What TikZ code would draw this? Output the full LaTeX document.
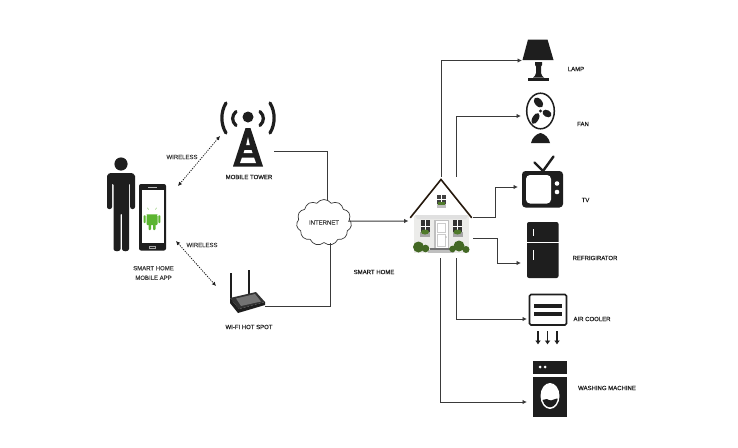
\documentclass[tikz,border=0pt]{standalone}
\usepackage{fontspec}
\setmainfont{Liberation Sans}
\newfontfamily\labfont[FakeBold=0.25]{Liberation Sans}
\usetikzlibrary{shapes.symbols,arrows.meta,calc}
\definecolor{ink}{HTML}{1E1E1E}
\definecolor{wirec}{HTML}{3A3A3A}
\definecolor{labc}{HTML}{3C3C3C}
\definecolor{droid}{HTML}{5CB531}
\definecolor{bush}{HTML}{4F7A2A}
\definecolor{wallg}{HTML}{ECECEA}
\tikzset{
  box/.style={inner sep=0pt,outer sep=0pt},
  lab/.style={inner sep=0pt,outer sep=0pt,text=labc,font=\labfont\fontsize{6}{9.6}\selectfont,align=center},
  wire/.style={draw=wirec,line width=1pt},
  feed/.style={wire,-{Latex[length=4.5pt,width=4.5pt]}},
  radio/.style={draw=ink,line width=0.8pt,dash pattern=on 1.2pt off 1.2pt,{Latex[length=4pt,width=4pt]}-{Latex[length=4pt,width=4pt]}},
  cloudbox/.style={shape=cloud,cloud puffs=11,cloud puff arc=110,aspect=1.25,draw=wirec,line width=0.7pt,fill=white,inner sep=0pt,outer sep=0pt,minimum width=55pt,minimum height=46pt,text=labc,font=\labfont\fontsize{6}{7}\selectfont}
}
\begin{document}
\begin{tikzpicture}[x=1pt,y=-1pt]
\useasboundingbox (0,0) rectangle (738,447);
\fill[white] (0,0) rectangle (738,447);

% placement boxes
\node[box,minimum width=52pt,minimum height=66pt] (user) at (152,217) {};
\node[box,minimum width=52pt,minimum height=40pt] (tower) at (248,151) {};
\node[box,minimum width=34pt,minimum height=40pt] (router) at (248,306) {};
\node[box,minimum width=63pt,minimum height=81pt] (house) at (441.5,217.5) {};
\node[box,minimum width=32pt,minimum height=41pt] (lamp) at (538,60.5) {};
\node[box,minimum width=32pt,minimum height=52pt] (fan) at (537,116) {};
\node[box,minimum width=44pt,minimum height=52pt] (tv) at (540,187) {};
\node[box,minimum width=36pt,minimum height=30pt] (fridge) at (539,263) {};
\node[box,minimum width=40pt,minimum height=31pt] (cooler) at (547,319) {};
\node[box,minimum width=40pt,minimum height=56pt] (washer) at (547,402) {};
\node[cloudbox] (cloud) at (324,222.5) {INTERNET};

% connectors
\draw[wire] (tower.east) -| ([xshift=3pt]cloud.north);
\draw[wire] (router.east) -| ([xshift=6pt]cloud.south);
\draw[feed] ([xshift=-3pt,yshift=1.5pt]cloud.east) -- ([yshift=-3.5pt,xshift=-1.5pt]house.west);
\draw[radio] ([xshift=-2pt,yshift=15pt]tower.west) -- ([yshift=31pt]user.east);
\draw[radio] ([xshift=-2pt,yshift=-24pt]user.east) -- ([xshift=-15pt,yshift=20pt]router.west);
\draw[feed] ([yshift=0.5pt]house.north) |- (lamp.west);
\draw[feed] ([xshift=15pt,yshift=0.5pt]house.north) |- (fan.west);
\draw[feed] (house.east) -- ++(22.5,0) |- (tv.west);
\draw[feed] ([yshift=-20.5pt]house.east) -- ++(24,0) |- (fridge.west);
\draw[feed] ([xshift=15pt]house.south) |- (cooler.west);
\draw[feed] ([xshift=-1pt]house.south) |- (washer.west);

% person
\fill[ink] (121,164) circle (6.6);
\fill[ink,rounded corners=2pt] (107,178) .. controls (107,174) and (110,173) .. (113,173) -- (129,173) .. controls (132,173) and (135,174) .. (135,178) -- (135,209) -- (130.2,209) -- (130.2,183) -- (129,183) -- (129,247) .. controls (129,252) and (122,252) .. (122,247) -- (122,213) -- (120.5,213) -- (120.5,247) .. controls (120.5,252) and (113.5,252) .. (113.5,247) -- (113.5,183) -- (112,183) -- (112,209) -- (107,209) -- cycle;

% phone
\fill[ink,rounded corners=2pt] (139,184) rectangle (166,250.5);
\fill[white] (141.5,190) rectangle (164,243);
\fill[white!70!ink] (148,187) rectangle (157,187.8);
\draw[white!60!ink,line width=0.4pt] (149.5,246.5) rectangle (155.5,248);
% android
\fill[droid] (146.5,214.3) arc[start angle=180,end angle=360,x radius=5.5,y radius=-5.5] -- cycle;
\fill[droid,rounded corners=0.8pt] (146.5,215.3) rectangle (157.5,225);
\fill[droid,rounded corners=0.8pt] (148.5,223) rectangle (151,230);
\fill[droid,rounded corners=0.8pt] (153,223) rectangle (155.5,230);
\fill[droid,rounded corners=0.8pt] (143.6,215.3) rectangle (145.7,223);
\fill[droid,rounded corners=0.8pt] (158.3,215.3) rectangle (160.4,223);
\draw[droid,line width=0.4pt] (148.5,209.5) -- (147.5,207.8);
\draw[droid,line width=0.4pt] (155.5,209.5) -- (156.5,207.8);
\fill[white] (149.5,211.6) circle (0.5) (154.5,211.6) circle (0.5);

% mobile tower icon
\fill[ink] (248,117) circle (5.5);
\draw[ink,line width=3.2pt,line cap=round] (236,111.5) .. controls (231.5,116) and (231.5,121) .. (236,125.5);
\draw[ink,line width=3.2pt,line cap=round] (260,111.5) .. controls (264.5,116) and (264.5,121) .. (260,125.5);
\draw[ink,line width=3.2pt,line cap=round] (226,103) .. controls (220.5,112) and (220.5,124) .. (226,133);
\draw[ink,line width=3.2pt,line cap=round] (270,103) .. controls (275.5,112) and (275.5,124) .. (270,133);
\fill[ink] (245.5,128) -- (250.5,128) -- (263,166.5) -- (233,166.5) -- cycle;
\fill[white] (248,137) -- (249.8,145) -- (246.2,145) -- cycle;
\fill[white] (244.5,150) -- (251.5,150) -- (252.5,153) -- (243.5,153) -- cycle;
\fill[white] (242,157.5) -- (254,157.5) -- (256,163) -- (240,163) -- cycle;

% router
\draw[ink,line width=1.1pt] (231,273) -- (231,298);
\draw[ink,line width=1.1pt] (249,270) -- (249,295);
\fill[black!80] (230,298) -- (256,292) -- (265,302) -- (239,309) -- cycle;
\fill[black!55] (236,298.5) -- (255,294) -- (261,301.5) -- (241,306) -- cycle;
\fill[ink] (230,298) -- (239,309) -- (265,302) -- (265,305) -- (238,313) -- (230,303) -- cycle;

% house
\fill[wallg] (414,216) rectangle (469,253);
\fill[white] (441,182) -- (468,215) -- (415,215) -- cycle;
\fill[black!12] (415,215) -- (468,215) -- (466,219) -- (417,219) -- cycle;
\draw[black!80!brown,line width=1.6pt,line cap=round] (410.5,217.5) -- (441,179.5) -- (471.5,217.5);
\fill[black!25] (436.5,195) rectangle (446,207.5);
\fill[black!75] (437,195) rectangle (445.5,204);
\draw[white,line width=0.5pt] (441.3,195) -- (441.3,204) (437,199) -- (445.5,199);
\fill[bush] (437.5,201.5) rectangle (445,205);
\fill[black!80] (420.5,220) rectangle (429.5,232);
\fill[black!80] (453,220) rectangle (462,232);
\draw[white,line width=0.5pt] (425,220) -- (425,232) (420.5,226) -- (429.5,226) (457.5,220) -- (457.5,232) (453,226) -- (462,226);
\fill[black!35] (420,232) rectangle (430,237);
\fill[black!35] (452.5,232) rectangle (462.5,237);
\fill[bush] (425,232) ellipse (4 and 2.5);
\fill[bush] (457.5,232) ellipse (4 and 2.5);
\fill[black!25] (434,220) rectangle (449,248);
\fill[white] (435.5,221) rectangle (447.5,248);
\draw[black!20,line width=0.4pt] (437.5,223) rectangle (445.5,232) (437.5,234) rectangle (445.5,246);
\fill[black!70] (446,237) circle (0.5);
\fill[black!55] (430,248) rectangle (452,250);
\fill[black!25] (428,250) rectangle (454,252.5);
\fill[bush!85!black] (418.5,247) circle (5.5);
\fill[bush!85!black] (425.5,248.5) circle (3.8);
\fill[bush!85!black] (459,246) circle (5.5);
\fill[bush!85!black] (452.5,249) circle (3.3);
\fill[bush!85!black] (466,249.5) circle (3.5);

% lamp
\fill[ink] (528,39.5) -- (547.5,39.5) -- (553.5,60) -- (522.5,60) -- cycle;
\fill[ink] (535,62) -- (542,62) -- (542,65) -- (541,66.5) -- (541,73) .. controls (541,76) and (543,76) .. (544,77.5) -- (533,77.5) .. controls (534,76) and (536,76) .. (536,73) -- (536,66.5) -- (535,65) -- cycle;
\fill[ink] (527.5,78) rectangle (548.5,81);

% fan
\draw[ink,line width=1.5pt] (540.5,111) ellipse (13.8 and 17.8);
\fill[ink] (540.5,111) circle (1.6);
\fill[ink,rotate around={-50:(538.5,102.5)}] (538.5,102.5) ellipse (5.8 and 3.6);
\fill[ink,rotate around={-30:(547,113.5)}] (547,113.5) ellipse (4.8 and 3.4);
\fill[ink,rotate around={60:(535.5,118.5)}] (535.5,118.5) ellipse (6 and 3.1);
\fill[ink] (540.5,133) .. controls (545,134) and (549,138) .. (550,143) -- (531,143) .. controls (532,138) and (536,134) .. (540.5,133) -- cycle;

% tv
\draw[ink,line width=2.4pt,line cap=round] (534.5,162.5) -- (543,171) -- (553.5,156.5);
\fill[ink,rounded corners=3.5pt] (522,171) rectangle (563,207.5);
\fill[white,rounded corners=4pt] (526,175) rectangle (551,203.5);
\fill[white] (557,183.5) circle (2.3) (557,192) circle (2.3);

% fridge
\fill[ink,rounded corners=2pt] (527,222) rectangle (558.5,278);
\fill[white] (527,241.5) rectangle (558.5,243);
\fill[white] (532.5,228.5) rectangle (534,235.5);
\fill[white] (532.5,250) rectangle (534,260);

% air cooler
\draw[ink,line width=1.7pt,rounded corners=1.5pt] (529.5,325) -- (529.5,294.5) -- (566.5,294.5) -- (566.5,325) -- cycle;
\fill[ink] (534,304) rectangle (562,307.5);
\fill[ink] (534,312) rectangle (562,315.5);
\foreach \ax in {538,547.5,557}{
  \draw[ink,line width=1.9pt,-{Latex[length=4pt,width=6pt]}] (\ax,331) -- (\ax,344.5);
}

% washing machine
\fill[ink] (532.5,361) rectangle (567,373.5);
\fill[white] (540,367) circle (1.5) (545,367) circle (1.5);
\fill[ink] (532.5,376.5) rectangle (567,417);
\fill[white] (550,396) ellipse (9.5 and 13);
\begin{scope}
\clip (550,396) ellipse (8 and 11.3);
\fill[ink] (540,399) .. controls (543,402) and (546,397) .. (549,400) .. controls (552,402) and (555,397) .. (560,399) -- (560,410) -- (540,410) -- cycle;
\end{scope}

% labels
\node[lab] (wirelessA) at (182,157) {WIRELESS};
\node[lab] (wirelessB) at (202,245) {WIRELESS};
\node[lab] (appname) at (153.5,273) {SMART HOME\\MOBILE APP};
\node[lab,text=ink] (towername) at (249,177) {MOBILE TOWER};
\node[lab,text=ink] (wifiname) at (249,327) {WI-FI HOT SPOT};
\node[lab,text=ink] (homename) at (374,272) {SMART HOME};
\node[lab,text=ink] (lampname) at (576,69) {LAMP};
\node[lab,text=ink] (fanname) at (583,124) {FAN};
\node[lab,text=ink] (tvname) at (585.5,200) {TV};
\node[lab,text=ink] (fridgename) at (595,258) {REFRIGIRATOR};
\node[lab,text=ink] (coolername) at (592,319) {AIR COOLER};
\node[lab,text=ink] (washername) at (607,388) {WASHING MACHINE};
\end{tikzpicture}
\end{document}
